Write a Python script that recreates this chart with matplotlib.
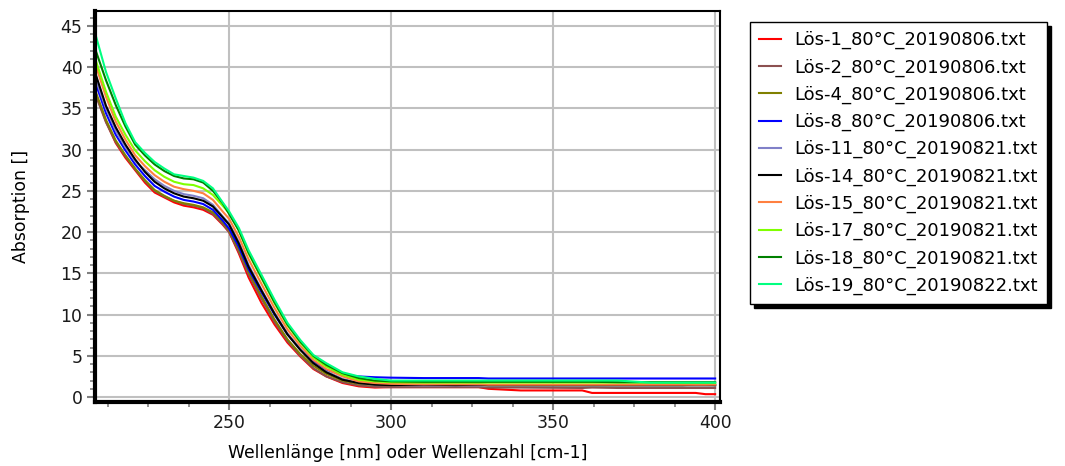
import matplotlib
matplotlib.use("Agg")
import matplotlib.pyplot as plt
from matplotlib.ticker import MultipleLocator

plt.rcParams['font.family'] = ['DejaVu Sans']

wavelength = [209, 212, 215, 218, 221, 224, 227, 230, 233, 236, 239, 242, 245, 248,
              250, 253, 256, 260, 264, 268, 272, 276, 280, 285, 290, 295, 300,
              310, 320, 327, 330, 340, 359, 362, 370, 380, 390, 394, 397, 400]

labels = ["Lös-1_80°C_20190806.txt", "Lös-2_80°C_20190806.txt", "Lös-4_80°C_20190806.txt",
          "Lös-8_80°C_20190806.txt", "Lös-11_80°C_20190821.txt", "Lös-14_80°C_20190821.txt",
          "Lös-15_80°C_20190821.txt", "Lös-17_80°C_20190821.txt", "Lös-18_80°C_20190821.txt",
          "Lös-19_80°C_20190822.txt"]

colors = ["#ff0000", "#8c5050", "#808000", "#0000ff", "#8080c8", "#000000",
          "#ff8040", "#80ff00", "#008000", "#00ff80"]

loes_1 = [36.6, 33.4, 30.8, 29.0, 27.5, 26.0, 24.8, 24.2, 23.6, 23.2, 23.0, 22.7, 22.1, 20.9,
          20.0, 17.4, 14.5, 11.4, 8.8, 6.6, 4.9, 3.4, 2.5, 1.7, 1.3, 1.15, 1.2,
          1.2, 1.2, 1.2, 1.0, 0.8, 0.8, 0.5, 0.5, 0.5, 0.5, 0.5, 0.35, 0.35]
loes_2 = [36.4, 33.3, 30.9, 29.2, 27.6, 26.2, 25.0, 24.3, 23.8, 23.4, 23.2, 22.9, 22.2, 21.0,
          20.0, 17.6, 14.9, 11.9, 9.1, 6.8, 5.0, 3.5, 2.5, 1.8, 1.4, 1.25, 1.2,
          1.2, 1.2, 1.2, 1.15, 1.15, 1.1, 1.15, 1.1, 1.1, 1.1, 1.1, 1.1, 1.1]
loes_4 = [36.8, 33.6, 31.1, 29.3, 27.7, 26.3, 25.1, 24.4, 23.8, 23.5, 23.3, 23.0, 22.4, 21.2,
          20.2, 17.9, 15.2, 12.2, 9.4, 7.0, 5.2, 3.8, 2.8, 2.0, 1.6, 1.5, 1.45,
          1.45, 1.45, 1.45, 1.4, 1.4, 1.4, 1.4, 1.4, 1.4, 1.4, 1.4, 1.4, 1.4]
loes_8 = [37.8, 34.4, 31.8, 29.9, 28.2, 26.8, 25.6, 24.9, 24.3, 23.9, 23.7, 23.4, 22.7, 21.4,
          20.4, 18.2, 15.5, 12.7, 10.0, 7.6, 5.8, 4.3, 3.3, 2.7, 2.5, 2.4, 2.35,
          2.3, 2.3, 2.3, 2.25, 2.25, 2.25, 2.25, 2.25, 2.25, 2.25, 2.25, 2.25, 2.25]
loes_11 = [38.3, 35.0, 32.3, 30.3, 28.6, 27.5, 26.4, 25.6, 25.0, 24.6, 24.4, 24.1, 23.3, 21.9,
           21.0, 18.8, 16.0, 13.0, 10.2, 7.7, 5.8, 4.1, 3.1, 2.2, 1.7, 1.5, 1.45,
           1.4, 1.4, 1.4, 1.4, 1.4, 1.4, 1.4, 1.4, 1.4, 1.4, 1.4, 1.4, 1.4]
loes_14 = [38.9, 35.3, 32.7, 30.6, 28.8, 27.3, 26.1, 25.3, 24.7, 24.3, 24.1, 23.8, 23.1, 21.8,
           20.9, 18.6, 15.8, 12.9, 10.1, 7.6, 5.7, 4.1, 3.0, 2.1, 1.7, 1.5, 1.45,
           1.5, 1.45, 1.5, 1.45, 1.45, 1.45, 1.45, 1.45, 1.45, 1.45, 1.5, 1.5, 1.45]
loes_15 = [40.0, 36.4, 33.4, 31.2, 29.3, 28.0, 26.9, 26.1, 25.5, 25.2, 25.0, 24.7, 23.9, 22.5,
           21.6, 19.4, 16.7, 13.7, 10.8, 8.2, 6.2, 4.5, 3.4, 2.5, 1.9, 1.7, 1.6,
           1.55, 1.55, 1.55, 1.5, 1.5, 1.5, 1.5, 1.5, 1.5, 1.5, 1.5, 1.5, 1.5]
loes_17 = [40.6, 37.0, 34.0, 31.8, 29.9, 28.6, 27.5, 26.7, 26.1, 25.8, 25.7, 25.3, 24.5, 23.2,
           22.3, 20.2, 17.4, 14.4, 11.4, 8.7, 6.6, 4.8, 3.7, 2.7, 2.1, 1.9, 1.8,
           1.75, 1.75, 1.75, 1.75, 1.75, 1.75, 1.75, 1.75, 1.75, 1.7, 1.7, 1.7, 1.7]
loes_18 = [41.8, 38.4, 35.4, 32.8, 30.6, 29.3, 28.2, 27.4, 26.8, 26.5, 26.4, 26.0, 25.0, 23.5,
           22.2, 20.2, 17.5, 14.5, 11.5, 8.8, 6.7, 5.0, 3.9, 2.9, 2.3, 2.0, 1.9,
           1.85, 1.85, 1.85, 1.85, 1.85, 1.85, 1.85, 1.8, 1.8, 1.8, 1.8, 1.8, 1.8]
loes_19 = [43.6, 39.4, 36.2, 33.2, 30.9, 29.6, 28.5, 27.7, 27.0, 26.8, 26.6, 26.2, 25.3, 23.6,
           22.5, 20.5, 17.8, 14.8, 11.8, 9.0, 6.9, 5.1, 4.1, 3.0, 2.5, 2.2, 2.0,
           2.0, 2.0, 2.0, 2.0, 2.0, 2.0, 2.0, 2.0, 1.75, 1.75, 1.75, 1.75, 1.75]

series = [loes_1, loes_2, loes_4, loes_8, loes_11, loes_14, loes_15, loes_17, loes_18, loes_19]

fig = plt.figure(figsize=(10.65, 4.66), dpi=100)
ax = fig.add_axes([95/1065, 1 - 402/466, (720 - 95)/1065, (402 - 11)/466])

for vals, col, lab in zip(series, colors, labels):
    ax.plot(wavelength, vals, color=col, lw=1.5, label=lab)

ax.set_xlim(208.6, 401.5)
ax.set_ylim(-0.6, 46.8)
ax.xaxis.set_major_locator(MultipleLocator(50))
ax.xaxis.set_minor_locator(MultipleLocator(12.5))
ax.yaxis.set_major_locator(MultipleLocator(5))
ax.yaxis.set_minor_locator(MultipleLocator(1))
ax.grid(True, which='major', color='#c0c0c0', lw=1.5)
ax.set_axisbelow(True)

ax.tick_params(which='major', direction='out', length=6, width=1.5, color='#808080',
               labelsize=12.4, labelcolor='#1a1a1a', pad=3)
ax.tick_params(which='minor', direction='out', length=3.5, width=1.2, color='#808080')

for side in ['left', 'bottom']:
    ax.spines[side].set_linewidth(3)
for side in ['top', 'right']:
    ax.spines[side].set_linewidth(1.5)
for s in ax.spines.values():
    s.set_color('black')

ax.set_xlabel("Wellenlänge [nm] oder Wellenzahl [cm-1]", fontsize=12.4, labelpad=8)
ax.set_ylabel("Absorption []", fontsize=12.4, labelpad=22)

leg = fig.legend(loc='upper left', bbox_to_anchor=(750/1065, 1 - 22/466), fontsize=13,
                 frameon=True, fancybox=False, handlelength=1.2, handletextpad=0.75,
                 labelspacing=0.5, borderpad=0.5, borderaxespad=0,
                 shadow={'ox': 3, 'oy': -3, 'facecolor': 'black', 'edgecolor': 'black', 'alpha': 1})
leg.get_frame().set_edgecolor('black')
leg.get_frame().set_linewidth(1.0)
for line in leg.get_lines():
    line.set_linewidth(1.5)

fig.savefig("out.png", dpi=100)
